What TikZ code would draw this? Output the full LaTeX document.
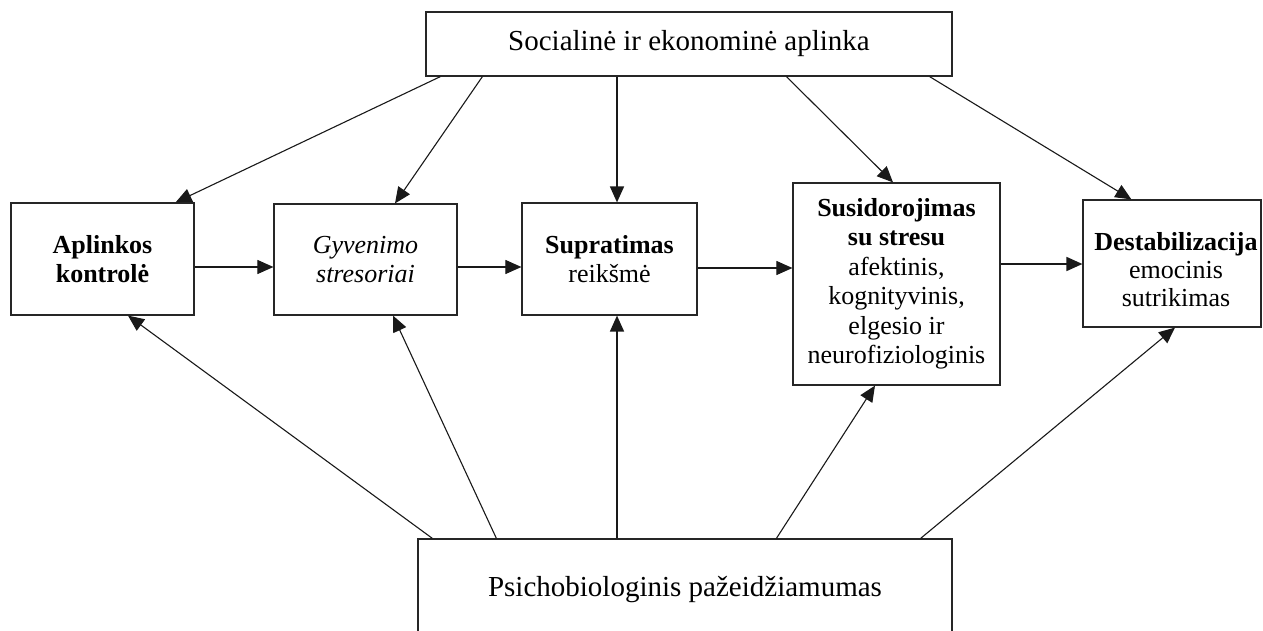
\documentclass[tikz,border=0pt]{standalone}
\usepackage{fontspec}
\setmainfont{Liberation Serif}
\usetikzlibrary{arrows.meta,calc}
\begin{document}
\begin{tikzpicture}[x=1pt,y=-1pt,
  box/.style={draw=black!85, line width=1.2pt, rectangle, inner sep=0pt, align=center,
              font=\fontsize{26}{29.5}\selectfont},
  bigbox/.style={box, font=\fontsize{29}{34}\selectfont},
  arr/.style={draw=black!90, line width=1.1pt, -{Triangle[length=16pt,width=14pt]}},
  heavyarr/.style={arr, line width=1.7pt}]
\clip (0,0) rectangle (1263,631);
\fill[white] (0,0) rectangle (1263,631);
% boxes
\node[bigbox, minimum width=526pt, minimum height=64pt] (soc) at (689,44) {Socialinė ir ekonominė aplinka};
\node[box, minimum width=183pt, minimum height=112pt] (apl) at (102.5,259) {\textbf{Aplinkos}\\\textbf{kontrolė}};
\node[box, minimum width=183pt, minimum height=111pt] (gyv) at (365.5,259.5) {\textit{Gyvenimo}\\\textit{stresoriai}};
\node[box, minimum width=175pt, minimum height=112pt] (sup) at (609.5,259) {\textbf{Supratimas}\\reikšmė};
\node[box, minimum width=207pt, minimum height=202pt] (sus) at (896.5,284) {\textbf{Susidorojimas}\\\textbf{su stresu}\\afektinis,\\kognityvinis,\\elgesio ir\\neurofiziologinis};
\node[box, minimum width=178pt, minimum height=127pt,
      label={[font=\fontsize{26}{28}\selectfont, align=center, inner sep=0pt, xshift=4pt, yshift=-6pt]center:{\textbf{Destabilizacija}\\emocinis\\sutrikimas}}] (des) at (1172,263.5) {};
\node[bigbox, minimum width=534pt, minimum height=102pt] (psi) at (685,590) {Psichobiologinis pažeidžiamumas};
% from top box
\draw[arr] ($(soc.south west)+(15,0)$) -- ($(apl.north east)+(-19,0)$);
\draw[arr] ($(soc.south west)+(57,0)$) -- ($(gyv.north)+(29.5,0)$);
\coordinate (sv) at ($(sup.north)+(7.5,0)$);
\draw[heavyarr] (sv |- soc.south) -- (sv);
\draw[arr] ($(soc.south west)+(361,0)$) -- ($(sus.north)+(-3.5,0)$);
\draw[arr] ($(soc.south east)+(-23,0)$) -- ($(des.north west)+(49,0)$);
% from bottom box
\draw[arr] ($(psi.north west)+(15,0)$) -- ($(apl.south)+(25.5,0)$);
\draw[arr] ($(psi.north west)+(79,0)$) -- ($(gyv.south)+(27.5,0)$);
\coordinate (sb) at ($(sup.south)+(7.5,0)$);
\draw[heavyarr] (sb |- psi.north) -- (sb);
\draw[arr] ($(psi.north west)+(359,0)$) -- ($(sus.south)+(-21.5,0)$);
\draw[arr] ($(psi.north east)+(-32,0)$) -- ($(des.south)+(3,0)$);
% chain
\draw[arr] ($(apl.east)+(0,8)$) -- ($(gyv.west)+(0,7.5)$);
\draw[arr] ($(gyv.east)+(0,7.5)$) -- ($(sup.west)+(0,8)$);
\draw[arr] ($(sup.east)+(0,9)$) -- ($(sus.west)+(0,-16)$);
\draw[heavyarr] ($(sus.east)+(0,-20)$) -- ($(des.west)+(0,0.5)$);
\end{tikzpicture}
\end{document}
